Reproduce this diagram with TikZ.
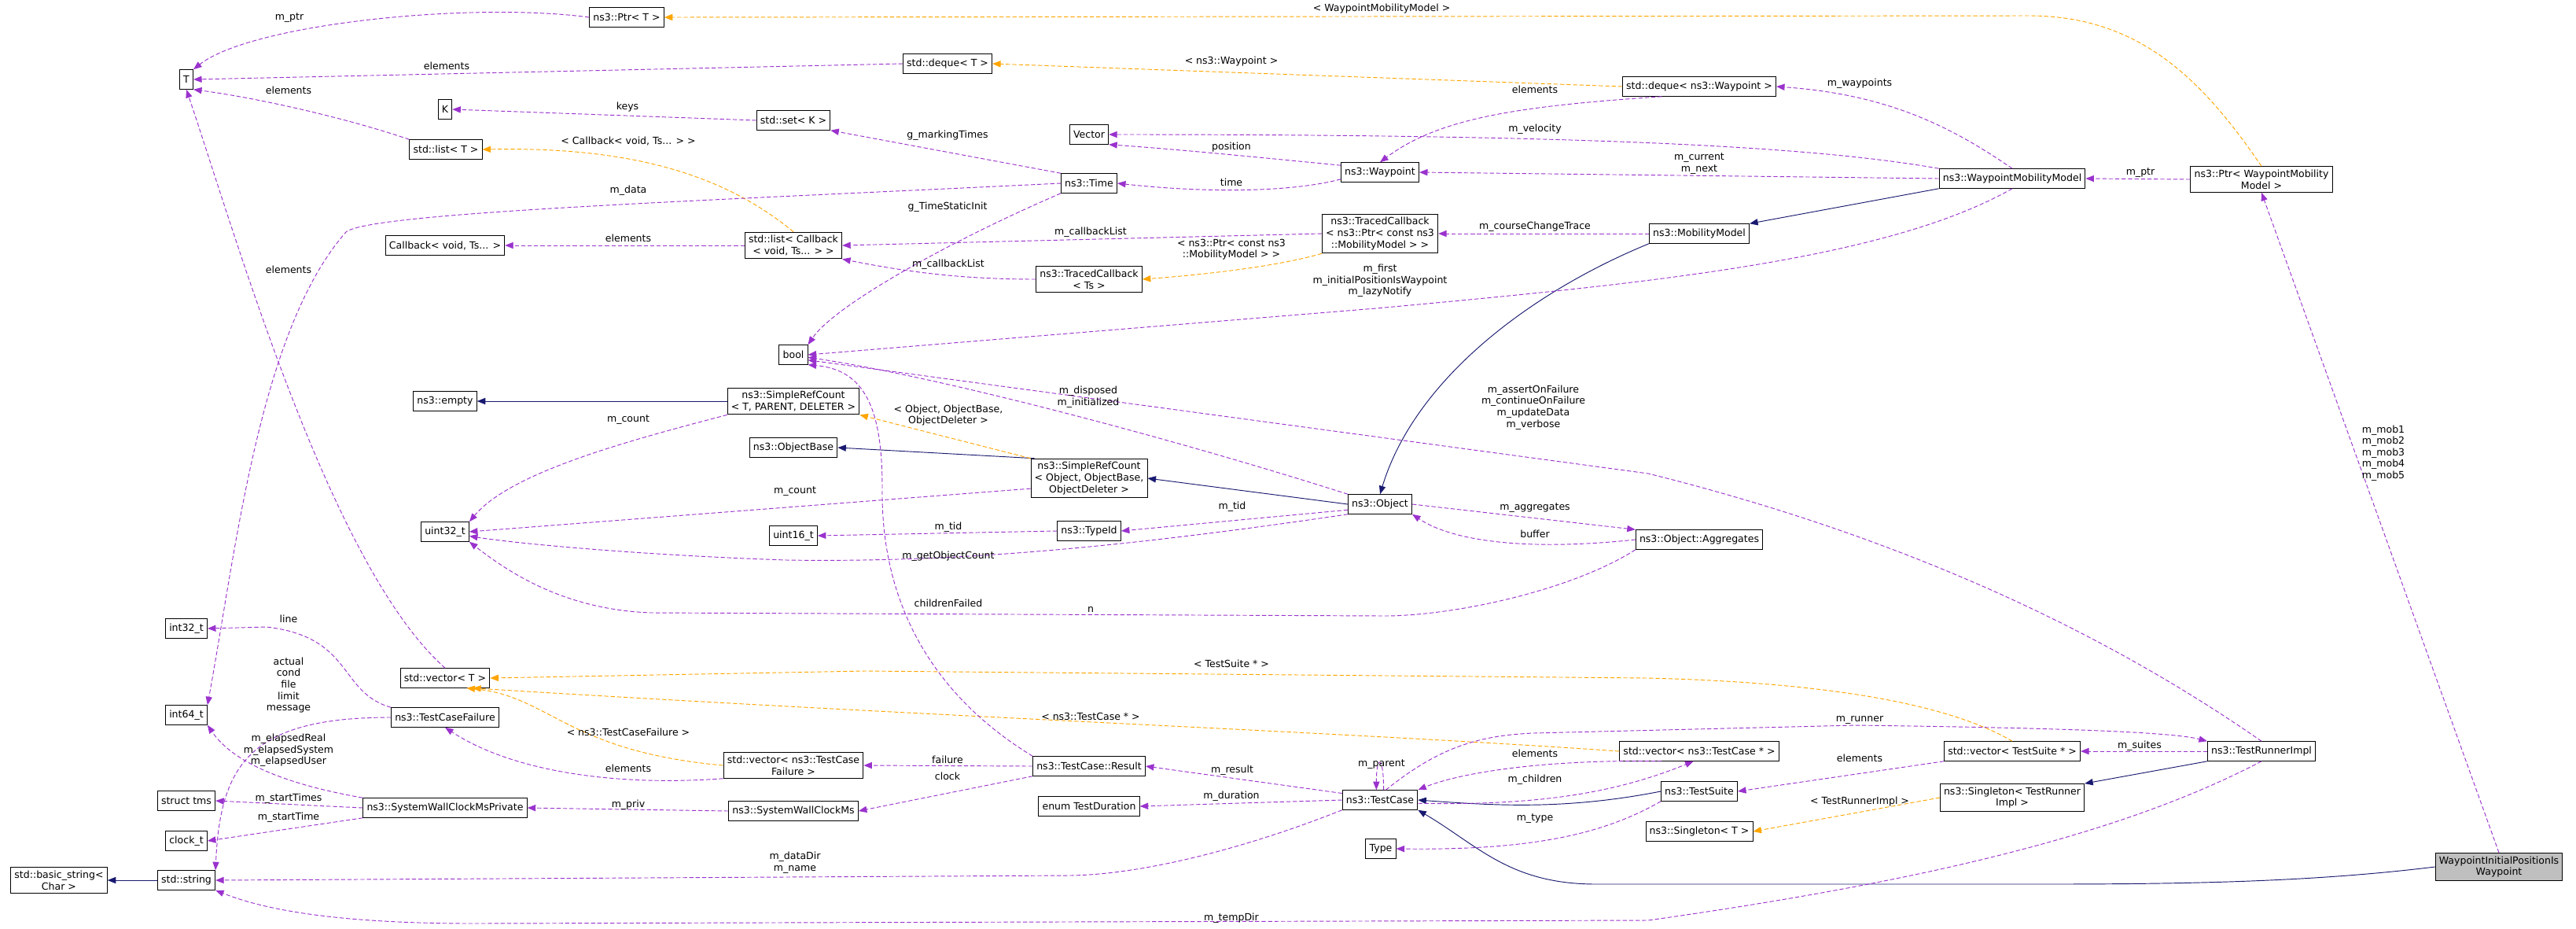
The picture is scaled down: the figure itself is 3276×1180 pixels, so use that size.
\documentclass[tikz,border=0pt]{standalone}
\usepackage{fontspec}
\setmainfont{DejaVu Sans}
\usetikzlibrary{arrows.meta}
\definecolor{dpurple}{HTML}{9A32CD}
\definecolor{dorange}{HTML}{FFA500}
\definecolor{dnavy}{HTML}{191970}
\begin{document}
\begin{tikzpicture}[x=0.3mm,y=-0.3mm,
  every node/.style={font=\fontsize{10.7pt}{12.5pt}\selectfont},
  cls/.style={draw=black, fill=white, line width=0.8pt, inner xsep=4pt, inner ysep=3.5pt, minimum height=21pt, align=center},
  lbl/.style={align=center, inner sep=0pt},
  use/.style={draw=dpurple, line width=0.8pt, dash pattern=on 4.5pt off 2.5pt, -{Triangle[length=9pt,width=7pt]}, dpurple},
  tmpl/.style={draw=dorange, line width=0.8pt, dash pattern=on 4.5pt off 2.5pt, -{Triangle[length=9pt,width=7pt]}, dorange},
  inh/.style={draw=dnavy, line width=0.8pt, -{Triangle[length=9pt,width=7pt]}, dnavy}]
\useasboundingbox (0,0) rectangle (3276,1180);
% nodes
\node[cls] (T) at (237,101) {T};
\node[cls] (ptrT) at (797,22) {ns3::Ptr< T >};
\node[cls] (K) at (566,139) {K};
\node[cls] (setK) at (1009,153) {std::set< K >};
\node[cls] (listT) at (567,190) {std::list< T >};
\node[cls] (cbv) at (566,312) {Callback< void, Ts... >};
\node[cls] (listCb) at (1009,312) {std::list< Callback\\< void, Ts... > >};
\node[cls] (bool) at (1009,451) {bool};
\node[cls] (empty) at (566,510) {ns3::empty};
\node[cls] (srcT) at (1009,510) {ns3::SimpleRefCount\\< T, PARENT, DELETER >};
\node[cls] (objBase) at (1009,569) {ns3::ObjectBase};
\node[cls] (u32) at (566,676) {uint32\_t};
\node[cls] (u16) at (1009,681) {uint16\_t};
\node[cls] (i32) at (237,799) {int32\_t};
\node[cls] (vecT) at (566,862) {std::vector< T >};
\node[cls] (i64) at (237,909) {int64\_t};
\node[cls] (tcf) at (566,912) {ns3::TestCaseFailure};
\node[cls] (vTCF) at (1009,973) {std::vector< ns3::TestCase\\Failure >};
\node[cls] (tms) at (237,1018) {struct tms};
\node[cls] (swcmp) at (566,1027) {ns3::SystemWallClockMsPrivate};
\node[cls] (swcm) at (1009,1031) {ns3::SystemWallClockMs};
\node[cls] (clockt) at (237,1069) {clock\_t};
\node[cls] (bstr) at (75,1119) {std::basic\_string<\\Char >};
\node[cls] (str) at (237,1119) {std::string};
\node[cls] (dqT) at (1205,81) {std::deque< T >};
\node[cls] (dqW) at (2161,110) {std::deque< ns3::Waypoint >};
\node[cls] (vector) at (1385,171) {Vector};
\node[cls] (wp) at (1755,219) {ns3::Waypoint};
\node[cls] (time) at (1385,233) {ns3::Time};
\node[cls] (tc1) at (1755,297) {ns3::TracedCallback\\< ns3::Ptr< const ns3\\::MobilityModel > >};
\node[cls] (mm) at (2161,297) {ns3::MobilityModel};
\node[cls] (tc2) at (1385,355) {ns3::TracedCallback\\< Ts >};
\node[cls] (srcO) at (1385,608) {ns3::SimpleRefCount\\< Object, ObjectBase,\\ObjectDeleter >};
\node[cls] (obj) at (1755,641) {ns3::Object};
\node[cls] (tid) at (1385,675) {ns3::TypeId};
\node[cls] (aggr) at (2161,686) {ns3::Object::Aggregates};
\node[cls] (result) at (1385,974) {ns3::TestCase::Result};
\node[cls] (vTC) at (2161,955) {std::vector< ns3::TestCase * >};
\node[cls] (tc) at (1755,1017) {ns3::TestCase};
\node[cls] (dur) at (1385,1025) {enum TestDuration};
\node[cls] (ts) at (2161,1006) {ns3::TestSuite};
\node[cls] (singT) at (2161,1057) {ns3::Singleton< T >};
\node[cls] (type) at (1756,1079) {Type};
\node[cls] (wmm) at (2559,227) {ns3::WaypointMobilityModel};
\node[cls] (ptrW) at (2876,228) {ns3::Ptr< WaypointMobility\\Model >};
\node[cls] (tri) at (2876,955) {ns3::TestRunnerImpl};
\node[cls] (vTS) at (2559,955) {std::vector< TestSuite * >};
\node[cls] (singR) at (2559,1014) {ns3::Singleton< TestRunner\\Impl >};
\node[cls, fill={rgb,255:red,191;green,191;blue,191}] (wipw) at (3178,1102) {WaypointInitialPositionIs\\Waypoint};
% inheritance
\draw[inh] (str) -- (bstr);
\draw[inh] (srcT) -- (empty);
\draw[inh] (srcO.west) ++(0,-8) coordinate (a1) (srcO.160) -- (objBase.east);
\draw[inh] (obj.west) -- (srcO.east);
\draw[inh] (mm.south west) .. controls (1950,370) and (1800,480) .. (obj.north);
\draw[inh] (wmm.south west) -- (mm.north east);
\draw[inh] (ts.west) .. controls (1990,1030) and (1900,1024) .. (tc.east);
\draw[inh] (tri.south west) -- (singR.north east);
\draw[inh] (wipw.west) .. controls (2950,1120) and (2800,1124) .. (2600,1124) -- (2030,1124) .. controls (1920,1124) and (1880,1075) .. (tc.south east);
% templates
\draw[tmpl] (ptrW.north) .. controls (2800,100) and (2720,20) .. (2580,20) -- (ptrT.east);
\draw[tmpl] (dqW.west) -- (dqT.east);
\draw[tmpl] (listCb.north) .. controls (930,230) and (820,186) .. (listT.east);
\draw[tmpl] (tc1.south west) .. controls (1620,340) and (1520,350) .. (tc2.east);
\draw[tmpl] (srcO.north west) -- (srcT.south east);
\draw[tmpl] (vTS.north) .. controls (2470,890) and (2300,867) .. (2096,862) -- (1100,853) -- (vecT.east);
\draw[tmpl] (vTC.west) .. controls (1700,930) and (1200,912) .. (vecT.-20);
\draw[tmpl] (vTCF.west) .. controls (720,955) and (700,885) .. (vecT.-25);
\draw[tmpl] (singR.west) -- (singT.east);
% usage
\draw[use] (ptrT.west) .. controls (600,2) and (320,30) .. (T.north east);
\draw[use] (dqT.west) -- (T.east);
\draw[use] (listT.north west) .. controls (440,150) and (330,125) .. (T.south east);
\draw[use] (setK.west) -- (K.east);
\draw[use] (time.north west) -- (setK.south east);
\draw[use] (time.west) .. controls (900,255) and (470,270) .. (440,295) .. controls (330,420) and (300,700) .. (i64.north east);
\draw[use] (vecT.north) .. controls (420,720) and (300,300) .. (T.south);
\draw[use] (listCb.west) -- (cbv.east);
\draw[use] (wp.170) .. controls (1600,200) and (1500,190) .. (vector.south east);
\draw[use] (wp.190) .. controls (1640,245) and (1530,245) .. (time.east);
\draw[use] (time.south west) .. controls (1200,310) and (1060,390) .. (bool.north east);
\draw[use] (tc1.west) -- (listCb.east);
\draw[use] (tc2.west) .. controls (1220,355) and (1150,345) .. (listCb.south east);
\draw[use] (dqW.west) ++(0,0) (dqW.195) .. controls (1930,135) and (1830,150) .. (wp.north);
\draw[use] (wmm.north west) .. controls (2300,185) and (2000,171) .. (vector.east);
\draw[use] (wmm.west) -- (wp.east);
\draw[use] (wmm.north) .. controls (2480,160) and (2400,120) .. (dqW.east);
\draw[use] (wmm.south) .. controls (2400,330) and (2100,360) .. (1750,392) -- (bool.east);
\draw[use] (mm.west) -- (tc1.east);
\draw[use] (ptrW.west) -- (wmm.east);
\draw[use] (obj.north west) .. controls (1500,560) and (1200,480) .. (bool.-10);
\draw[use] (tri.north) .. controls (2700,820) and (2450,690) .. (2096,602) -- (bool.-20);
\draw[use] (result.north west) .. controls (1180,880) and (1120,760) .. (1122,620) .. controls (1122,520) and (1100,470) .. (bool.south east);
\draw[use] (srcT.south west) .. controls (800,560) and (650,600) .. (u32.north east);
\draw[use] (srcO.-170) -- (u32.east);
\draw[use] (tid.west) -- (u16.east);
\draw[use] (obj.west) ++(0,0) (obj.-170) -- (tid.east);
\draw[use] (obj.south west) .. controls (1400,700) and (1200,715) .. (1000,712) .. controls (800,705) and (650,690) .. (u32.-10);
\draw[use] (obj.east) -- (aggr.north west);
\draw[use] (aggr.west) .. controls (1950,700) and (1850,690) .. (obj.south east);
\draw[use] (aggr.south west) .. controls (2000,750) and (1850,783) .. (1760,783) -- (828,779) .. controls (720,775) and (650,730) .. (u32.south east);
\draw[use] (result.west) -- (vTCF.east);
\draw[use] (result.south west) -- (swcm.east);
\draw[use] (vTCF.south west) .. controls (780,1000) and (650,980) .. (tcf.south);
\draw[use] (tc.170) -- (result.east);
\draw[use] (tc.west) -- (dur.east);
\draw[use] (tc.south west) .. controls (1580,1080) and (1450,1112) .. (1360,1113) -- (str.east);
\draw[use] (tc.70) .. controls +(0,-45) and +(0,-45) .. (tc.110);
\draw[use] (vTC.west) ++(0,0) (vTC.195) .. controls (1950,965) and (1850,985) .. (tc.north east);
\draw[use] (tc.east) ++(0,0) (tc.-5) .. controls (1950,1024) and (2050,1010) .. (vTC.-120);
\draw[use] (ts.south west) .. controls (2040,1060) and (1950,1081) .. (type.east);
\draw[use] (tc.60) .. controls (1830,950) and (1880,935) .. (1950,932) -- (2359,922) .. controls (2600,925) and (2760,930) .. (tri.north west);
\draw[use] (vTS.south west) -- (ts.east);
\draw[use] (tri.west) -- (vTS.east);
\draw[use] (tri.south) .. controls (2700,1060) and (2450,1120) .. (2096,1170) -- (602,1174) .. controls (400,1174) and (320,1150) .. (str.south east);
\draw[use] (wipw.north) -- (ptrW.south);
\draw[use] (swcmp.north west) .. controls (380,1000) and (300,975) .. (i64.south east);
\draw[use] (swcmp.west) -- (tms.east);
\draw[use] (swcmp.south west) -- (clockt.east);
\draw[use] (swcm.west) -- (swcmp.east);
\draw[use] (tcf.north west) .. controls (430,880) and (450,810) .. (339,797) -- (i32.east);
\draw[use] (tcf.west) .. controls (320,912) and (280,970) .. (str.north east);
% labels
\node[lbl] (l1) at (368,23) {m\_ptr};
\node[lbl] (l2) at (568,84) {elements};
\node[lbl] (l3) at (367,115) {elements};
\node[lbl] (l4) at (798,136) {keys};
\node[lbl] (l5) at (799,179) {< Callback< void, Ts... > >};
\node[lbl] (l6) at (799,242) {m\_data};
\node[lbl] (l7) at (799,303) {elements};
\node[lbl] (l8) at (367,343) {elements};
\node[lbl] (l9) at (799,534) {m\_count};
\node[lbl] (l10) at (1011,625) {m\_count};
\node[lbl] (l11) at (367,787) {line};
\node[lbl] (l12) at (367,871) {actual\\cond\\file\\limit\\message};
\node[lbl] (l13) at (367,954) {m\_elapsedReal\\m\_elapsedSystem\\m\_elapsedUser};
\node[lbl] (l14) at (799,931) {< ns3::TestCaseFailure >};
\node[lbl] (l15) at (799,977) {elements};
\node[lbl] (l16) at (367,1015) {m\_startTimes};
\node[lbl] (l17) at (367,1039) {m\_startTime};
\node[lbl] (l18) at (799,1023) {m\_priv};
\node[lbl] (l19) at (1011,1097) {m\_dataDir\\m\_name};
\node[lbl] (l20) at (1757,11) {< WaypointMobilityModel >};
\node[lbl] (l21) at (1566,78) {< ns3::Waypoint >};
\node[lbl] (l22) at (1952,114) {elements};
\node[lbl] (l23) at (1205,172) {g\_markingTimes};
\node[lbl] (l24) at (1952,164) {m\_velocity};
\node[lbl] (l25) at (1566,187) {position};
\node[lbl] (l26) at (2161,208) {m\_current\\m\_next};
\node[lbl] (l27) at (1566,232) {time};
\node[lbl] (l28) at (1205,263) {g\_TimeStaticInit};
\node[lbl] (l29) at (1387,295) {m\_callbackList};
\node[lbl] (l30) at (1952,288) {m\_courseChangeTrace};
\node[lbl] (l31) at (1566,317) {< ns3::Ptr< const ns3\\::MobilityModel > >};
\node[lbl] (l32) at (1206,336) {m\_callbackList};
\node[lbl] (l33) at (1755,357) {m\_first\\m\_initialPositionIsWaypoint\\m\_lazyNotify};
\node[lbl] (l34) at (1384,505) {m\_disposed\\m\_initialized};
\node[lbl] (l35) at (1206,528) {< Object, ObjectBase,\\ObjectDeleter >};
\node[lbl] (l36) at (1950,518) {m\_assertOnFailure\\m\_continueOnFailure\\m\_updateData\\m\_verbose};
\node[lbl] (l37) at (1567,644) {m\_tid};
\node[lbl] (l38) at (1952,646) {m\_aggregates};
\node[lbl] (l39) at (1206,670) {m\_tid};
\node[lbl] (l40) at (1952,679) {buffer};
\node[lbl] (l41) at (1206,707) {m\_getObjectCount};
\node[lbl] (l42) at (1206,767) {childrenFailed};
\node[lbl] (l43) at (1387,775) {n};
\node[lbl] (l44) at (1566,844) {< TestSuite * >};
\node[lbl] (l45) at (1387,911) {< ns3::TestCase * >};
\node[lbl] (l46) at (1205,966) {failure};
\node[lbl] (l47) at (1205,987) {clock};
\node[lbl] (l48) at (1567,979) {m\_result};
\node[lbl] (l49) at (1757,972) {m\_parent};
\node[lbl] (l50) at (1952,958) {elements};
\node[lbl] (l51) at (1952,991) {m\_children};
\node[lbl] (l52) at (1566,1012) {m\_duration};
\node[lbl] (l53) at (1952,1041) {m\_type};
\node[lbl] (l54) at (1566,1167) {m\_tempDir};
\node[lbl] (l55) at (2365,106) {m\_waypoints};
\node[lbl] (l56) at (2722,220) {m\_ptr};
\node[lbl] (l57) at (3031,576) {m\_mob1\\m\_mob2\\m\_mob3\\m\_mob4\\m\_mob5};
\node[lbl] (l58) at (2365,915) {m\_runner};
\node[lbl] (l59) at (2721,948) {m\_suites};
\node[lbl] (l60) at (2365,964) {elements};
\node[lbl] (l61) at (2365,1019) {< TestRunnerImpl >};
\end{tikzpicture}
\end{document}
